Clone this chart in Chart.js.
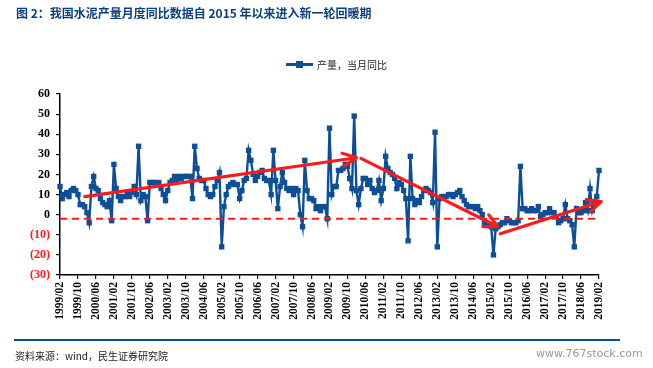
<!DOCTYPE html>
<html>
<head>
<meta charset="utf-8">
<script src="https://cdn.jsdelivr.net/npm/chart.js@4.4.1/dist/chart.umd.min.js"></script>
<style>
  body { margin: 0; background: #fff; }
  #wrap { position: relative; width: 653px; height: 368px; overflow: hidden; font-family: "Noto Sans CJK SC", sans-serif; }
  #chart { position: absolute; left: 0; top: 0; }
  .title { position: absolute; left: 16px; top: 4px; font-size: 12px; font-weight: bold; color: #0b3f80; white-space: nowrap; }
  .legend { position: absolute; left: 286px; top: 57px; display: flex; align-items: center; font-size: 10px; color: #222; }
  .legend .sample { position: relative; width: 27px; height: 3px; background: #0c4f97; margin-right: 4px; }
  .legend .sample::after { content: ""; position: absolute; left: 10px; top: -2px; width: 7px; height: 7px; background: #0c4f97; }
  .rule { position: absolute; left: 14px; top: 339px; width: 606px; height: 2px; background: #0b4f95; }
  .source { position: absolute; left: 15px; top: 348px; font-size: 10px; color: #222; white-space: nowrap; }
  .mark { position: absolute; left: 536px; top: 347px; font-family: "DejaVu Sans", sans-serif; font-size: 11px; color: #999; }
</style>
</head>
<body>
<div id="wrap">
  <canvas id="chart" width="653" height="368"></canvas>
  <div class="title">图 2：我国水泥产量月度同比数据自 2015 年以来进入新一轮回暖期</div>
  <div class="legend"><span class="sample"></span><span>产量，当月同比</span></div>
  <div class="rule"></div>
  <div class="source">资料来源：wind，民生证券研究院</div>
  <div class="mark">www.767stock.com</div>
</div>
<script>
// monthly series, 1999/02 .. 2019/02
const startYear = 1999;
const startMonth = 2;
const seriesName = '产量，当月同比';
const yoy = [
  14, 8, 10, 11, 9, 12, 13, 12, 10, 5, 5,          // 1999 Feb-Dec
  4, 1, -4, 14, 19, 13, 12, 8, 6, 5, 4, 7,         // 2000
  -3, 25, 13, 9, 7, 9, 9, 10, 9, 11, 14, 10,       // 2001
  34, 7, 10, 9, -3, 16, 16, 16, 15, 16, 13, 10,    // 2002
  7, 12, 16, 17, 19, 17, 19, 18, 19, 19, 19, 19,   // 2003
  8, 34, 23, 18, 17, 17, 13, 10, 9, 10, 14, 17,    // 2004
  21, -16, 4, 10, 14, 15, 16, 15, 15, 8, 12, 17,   // 2005
  18, 32, 27, 20, 17, 19, 21, 22, 18, 17, 17, 10,  // 2006
  32, 17, 3, 14, 21, 16, 13, 12, 13, 10, 13, 12,   // 2007
  0, -6, 27, 12, 8, 8, 7, 3, 4, 2, 4, 4,           // 2008
  -2, 43, 10, 14, 14, 22, 22, 23, 25, 24, 18, 13,  // 2009
  49, 12, 5, 13, 18, 18, 15, 17, 13, 11, 12, 17,   // 2010
  7, 13, 29, 23, 21, 20, 18, 13, 16, 15, 12, 8,    // 2011
  -13, 29, 8, 5, 7, 6, 9, 12, 13, 12, 11, 6,       // 2012
  41, -16, 8, 9, 9, 9, 10, 10, 9, 10, 11, 12,      // 2013
  9, 7, 5, 4, 4, 4, 3, 4, 2, 0, -4, -5,            // 2014
  -5, -6, -20, -7, -6, -5, -4, -4, -2, -3, -4, -4, // 2015
  -4, -3, 24, 3, 3, 2, 2, 3, 2, 2, 4, -1,          // 2016
  0, 1, 1, 3, 1, 1, -1, -4, -3, -2, 5, -2,         // 2017
  -3, -5, -16, 3, 1, 1, 2, 6, 2, 13, 2, 6,         // 2018
  9, 22                                            // 2019 Jan-Feb
];

const yTicks = [60, 50, 40, 30, 20, 10, 0, -10, -20, -30];
const refLevel = -2;

// red trend arrows: [month index, value]
const arrowFrom = [[11, 9], [134, 28], [196, -9.5]];
const arrowTo = [[132, 28.3], [195, -6], [241, 6.5]];

const blue = '#0c4f97';
const red = '#ff1a1a';

const monthLabels = yoy.map((_, i) => {
  const n = startMonth - 1 + i;
  const y = startYear + Math.floor(n / 12);
  const m = (n % 12) + 1;
  return `${y}/${String(m).padStart(2, '0')}`;
});

const arrowPlugin = {
  id: 'trendArrows',
  afterDatasetsDraw(chart) {
    const { ctx, scales: { x, y } } = chart;
    ctx.save();
    ctx.strokeStyle = red;
    ctx.lineWidth = 3.2;
    ctx.lineCap = 'round';
    arrowFrom.forEach((from, i) => {
      const to = arrowTo[i];
      const x1 = x.getPixelForValue(from[0]), y1 = y.getPixelForValue(from[1]);
      const x2 = x.getPixelForValue(to[0]), y2 = y.getPixelForValue(to[1]);
      const ang = Math.atan2(y2 - y1, x2 - x1);
      ctx.beginPath();
      ctx.moveTo(x1, y1);
      ctx.lineTo(x2, y2);
      [0.45, -0.45].forEach(d => {
        ctx.moveTo(x2, y2);
        ctx.lineTo(x2 - 15 * Math.cos(ang + d), y2 - 15 * Math.sin(ang + d));
      });
      ctx.stroke();
    });
    ctx.restore();
  }
};

const serif = { family: '"Liberation Serif", "Times New Roman", serif', weight: 'bold' };

new Chart(document.getElementById('chart').getContext('2d'), {
  type: 'line',
  data: {
    datasets: [
      {
        label: 'ref',
        data: [{ x: 0, y: refLevel }, { x: yoy.length - 1, y: refLevel }],
        borderColor: red,
        borderWidth: 2,
        borderDash: [7, 5],
        pointRadius: 0,
        order: 0
      },
      {
        label: seriesName,
        data: yoy.map((v, i) => ({ x: i, y: v })),
        borderColor: blue,
        backgroundColor: blue,
        borderWidth: 2.4,
        pointStyle: 'rect',
        pointRadius: 3.8,
        pointBorderWidth: 0,
        tension: 0,
        clip: false,
        order: 1
      }
    ]
  },
  options: {
    responsive: false,
    devicePixelRatio: 1,
    animation: false,
    layout: { padding: { left: 0, top: 94, right: 54, bottom: 0 } },
    plugins: { legend: { display: false }, tooltip: { enabled: false } },
    scales: {
      x: {
        type: 'linear',
        min: 0,
        max: yoy.length - 1,
        afterFit: s => { s.height = 93; },
        afterBuildTicks: s => { s.ticks = monthLabels.map((_, i) => ({ value: i })).filter(t => t.value % 8 === 0); },
        border: { color: '#000', width: 1.5 },
        grid: { drawOnChartArea: false, tickLength: 4, color: '#000', lineWidth: 1.2 },
        ticks: {
          autoSkip: false,
          maxRotation: 90,
          minRotation: 90,
          padding: 3,
          color: '#000',
          font: { ...serif, size: 11.5 },
          callback: v => monthLabels[v]
        }
      },
      y: {
        min: -30,
        max: 60,
        afterFit: s => { s.width = 60; },
        afterBuildTicks: s => { s.ticks = yTicks.map(v => ({ value: v })); },
        border: { color: '#000', width: 1.5 },
        grid: { drawOnChartArea: false, tickLength: 4, color: '#000', lineWidth: 1.2 },
        ticks: {
          padding: 6,
          font: { ...serif, size: 12 },
          color: c => c.tick.value < 0 ? red : '#000',
          callback: v => v < 0 ? `(${-v})` : v
        }
      }
    }
  },
  plugins: [arrowPlugin]
});
</script>
</body>
</html>
